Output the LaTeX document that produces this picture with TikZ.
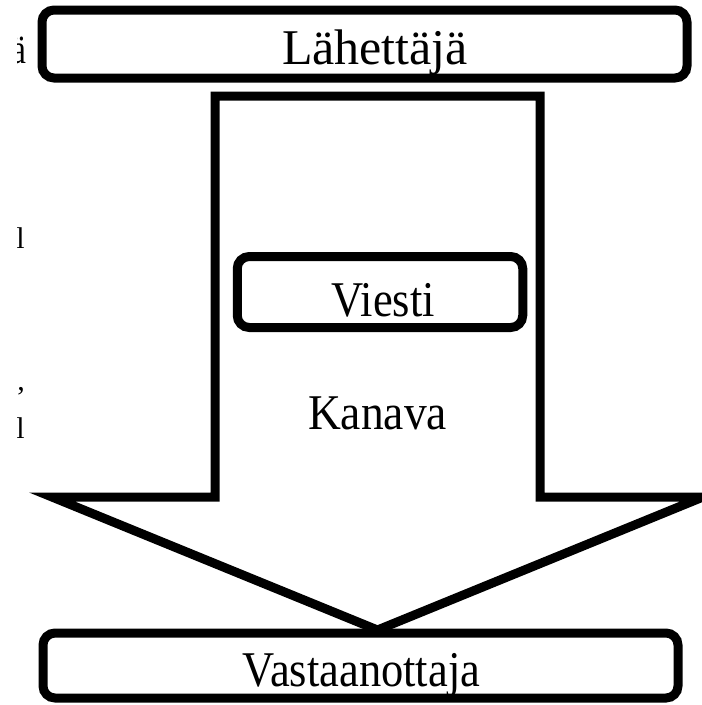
\documentclass[tikz,border=0pt]{standalone}
\usepackage{fontspec}
\usepackage{graphicx}
\setmainfont{Liberation Serif}
\begin{document}
\begin{tikzpicture}[x=1pt,y=-1pt,
  rbox/.style={draw=black, line width=9pt, rounded corners=12pt, fill=white, inner sep=0pt},
  lbl/.style={inner sep=0pt, anchor=base, font=\fontsize{50}{50}\selectfont},
  frag/.style={inner sep=0pt, anchor=base east}]
\useasboundingbox (0,0) rectangle (702,705);
\clip (0,0) rectangle (702,705);
% clipped fragments at left edge
\begin{scope}
\clip (17,0) rectangle (30,705);
\node[frag, font=\fontsize{42}{42}\selectfont] (f1) at (27,63) {\scalebox{0.8}[1]{ä}};
\node[frag, font=\fontsize{30}{30}\selectfont] (f2) at (25,248) {l};
\node[frag, font=\fontsize{30}{30}\selectfont] (f3) at (25,390) {,};
\node[frag, font=\fontsize{30}{30}\selectfont] (f4) at (25,438) {l};
\end{scope}
% channel arrow
\draw[line width=9pt, fill=white, miter limit=20]
  (215,96) -- (540,96) -- (540,497) -- (703,497) -- (377.5,630)
  -- (52,497) -- (215,497) -- cycle;
% boxes
\node[rbox, minimum width=645pt, minimum height=68pt] (sender) at (364.5,44) {};
\node[rbox, minimum width=285.5pt, minimum height=71pt] (msg) at (380,292) {};
\node[rbox, minimum width=635pt, minimum height=65pt] (recv) at (360.5,665.5) {};
% labels
\node[lbl] (tsender) at (375,64) {\scalebox{1.0}[1]{Lähettäjä}};
\node[lbl] (tmsg) at (383,316) {\scalebox{0.89}[1]{Viesti}};
\node[lbl] (tchan) at (377.5,429) {\scalebox{0.91}[1]{Kanava}};
\node[lbl] (trecv) at (361.5,686) {\scalebox{0.89}[1]{Vastaanottaja}};
\end{tikzpicture}
\end{document}
